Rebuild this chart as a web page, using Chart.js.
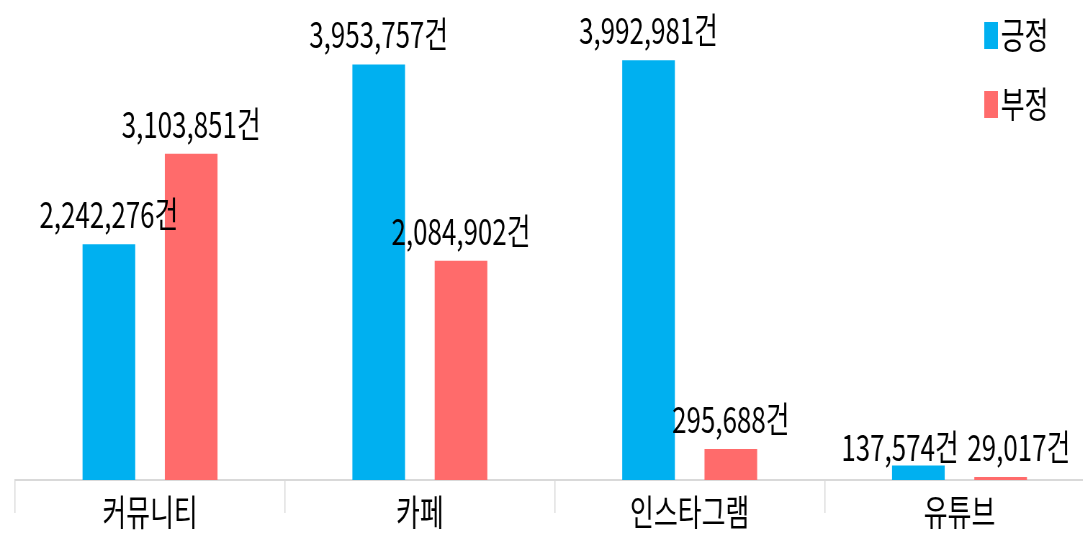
<!DOCTYPE html>
<html>
<head>
<meta charset="utf-8">
<script src="https://cdn.jsdelivr.net/npm/chart.js@4"></script>
<style>
  html, body { margin: 0; padding: 0; overflow: hidden; background: #fff; width: 1083px; height: 533px; }
  /* the reference text is narrow, so draw wide and squeeze horizontally */
  #wrap { width: 1520px; height: 533px; transform: scaleX(0.72); transform-origin: 0 0; }
</style>
</head>
<body>
<div id="wrap"><canvas id="chart" width="1520" height="533"></canvas></div>
<script>
const categories = ['커뮤니티', '카페', '인스타그램', '유튜브'];
const seriesNames = ['긍정', '부정'];
const positive = [2242276, 3953757, 3992981, 137574];
const negative = [3103851, 2084902, 295688, 29017];
const colors = ['#00B0F0', '#FF6B6B'];

const FONT = '"Noto Sans CJK KR", "Noto Sans", sans-serif';

// value labels above bars, nudged apart when two in a group collide
const valueLabels = {
  id: 'valueLabels',
  afterDatasetsDraw(chart) {
    const ctx = chart.ctx;
    ctx.save();
    ctx.font = '36px ' + FONT;
    ctx.fillStyle = '#000';
    ctx.textAlign = 'center';
    ctx.textBaseline = 'alphabetic';
    const m0 = chart.getDatasetMeta(0).data;
    const m1 = chart.getDatasetMeta(1).data;
    categories.forEach((c, j) => {
      const t0 = positive[j].toLocaleString('en-US') + '건';
      const t1 = negative[j].toLocaleString('en-US') + '건';
      let x0 = m0[j].x, x1 = m1[j].x;
      let y0 = m0[j].y - 16, y1 = m1[j].y - 16;
      const w0 = ctx.measureText(t0).width, w1 = ctx.measureText(t1).width;
      const overlap = (x0 + w0 / 2 + 12) - (x1 - w1 / 2);
      if (overlap > 0 && Math.abs(y0 - y1) < 36) {
        x0 -= overlap / 2;
        x1 += overlap / 2;
        y0 = y1 = Math.max(y0, y1);
      }
      ctx.fillText(t0, x0, y0);
      ctx.fillText(t1, x1, y1);
    });
    ctx.restore();
  }
};

// legend in the top right corner, over the plot
const cornerLegend = {
  id: 'cornerLegend',
  afterDraw(chart) {
    const ctx = chart.ctx;
    ctx.save();
    ctx.font = '36px ' + FONT;
    ctx.textBaseline = 'middle';
    ctx.textAlign = 'left';
    chart.data.datasets.forEach((ds, i) => {
      const cy = 35 + i * 69;
      ctx.fillStyle = ds.backgroundColor;
      ctx.fillRect(1367, cy - 13, 19, 27);
      ctx.fillStyle = '#000';
      ctx.fillText(ds.label, 1390, cy);
    });
    ctx.restore();
  }
};

new Chart(document.getElementById('chart'), {
  type: 'bar',
  data: {
    labels: categories,
    datasets: [
      {
        label: seriesNames[0],
        data: positive,
        backgroundColor: colors[0],
        categoryPercentage: 0.61,
        barPercentage: 0.64,
      },
      {
        label: seriesNames[1],
        data: negative,
        backgroundColor: colors[1],
        categoryPercentage: 0.61,
        barPercentage: 0.64,
      },
    ],
  },
  options: {
    responsive: false,
    animation: false,
    devicePixelRatio: 1,
    layout: {
      padding: { top: 7, left: 21, right: 0, bottom: 0 },
    },
    plugins: {
      legend: { display: false },
      tooltip: { enabled: false },
    },
    scales: {
      y: {
        display: false,
        min: 0,
        max: 4500000,
      },
      x: {
        afterFit(scale) {
          scale.height = 53;
        },
        grid: {
          offset: true,
          drawOnChartArea: false,
          tickLength: 33,
          color: '#d9d9d9',
          lineWidth: 1.5,
        },
        border: { color: '#d9d9d9', width: 2 },
        ticks: {
          color: '#000',
          padding: -20,
          font: { family: FONT, size: 36, lineHeight: 1.1 },
        },
      },
    },
  },
  plugins: [valueLabels, cornerLegend],
});
</script>
</body>
</html>
